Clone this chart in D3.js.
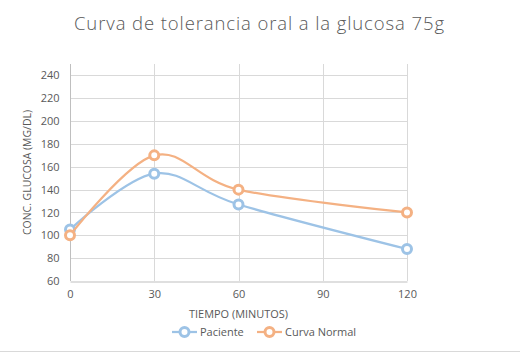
<!DOCTYPE html>
<html><head><meta charset="utf-8">
<script src="https://cdn.jsdelivr.net/npm/d3@7"></script>
<style>body{margin:0;background:#fff}svg{display:block;font-family:"Open Sans",Lato,sans-serif}</style>
</head><body><svg id="c" width="520" height="352"></svg>
<script>
const title = "Curva de tolerancia oral a la glucosa 75g";
const xTitle = "TIEMPO (MINUTOS)";
const yTitle = "CONC. GLUCOSA (MG/DL)";
const times = [0, 30, 60, 120];
const xTicks = [0, 30, 60, 90, 120];
const yTicks = [60, 80, 100, 120, 140, 160, 180, 200, 220, 240];
const paciente = [105, 154, 127, 88];
const normal = [100, 170, 140, 120];
const seriesNames = ["Paciente", "Curva Normal"];
const colors = ["#9dc3e6", "#f4b183"];

const FONT = '"Open Sans",Lato,sans-serif';
const svg = d3.select("#c");
const x = d3.scaleLinear().domain([0, 120]).range([70, 407]);
const y = d3.scaleLinear().domain([60, 250]).range([281, 64]);

svg.append("line").attr("x1",0).attr("x2",520).attr("y1",351.5).attr("y2",351.5).attr("stroke","#d9d9d9");

svg.append("text").attr("x",259).attr("y",30).attr("text-anchor","middle")
  .attr("font-size",18.5).attr("font-weight",300).attr("fill","#595959")
  .attr("textLength",370).attr("lengthAdjust","spacing").text(title);

// grid
const g = svg.append("g");
g.selectAll(".hg").data(yTicks.filter(d=>d>60)).join("line")
  .attr("x1",x(0)).attr("x2",x(120)).attr("y1",d=>Math.round(y(d))+0.5).attr("y2",d=>Math.round(y(d))+0.5)
  .attr("stroke","#d9d9d9");
g.selectAll(".vg").data(xTicks.filter(d=>d>0)).join("line")
  .attr("x1",d=>Math.round(x(d))+0.5).attr("x2",d=>Math.round(x(d))+0.5).attr("y1",y(250)).attr("y2",y(60))
  .attr("stroke","#d9d9d9");

// axes
const ya = svg.append("g").attr("transform",`translate(${Math.round(x(0))+0.5},0)`)
  .call(d3.axisLeft(y).tickValues(yTicks).tickSize(0).tickPadding(11));
ya.select(".domain").attr("stroke","#bfbfbf").attr("d",`M0,${y(250)}V${y(60)}`);
const xa = svg.append("g").attr("transform",`translate(0,${Math.round(y(60))+0.5})`)
  .call(d3.axisBottom(x).tickValues(xTicks).tickSize(0).tickPadding(9));
xa.select(".domain").attr("stroke","#bfbfbf");
[ya,xa].forEach(a=>a.selectAll("text").attr("font-size",11).attr("fill","#595959")
  .attr("font-family",FONT));

svg.append("text").attr("x",238.5).attr("y",318).attr("text-anchor","middle").attr("font-size",11)
  .attr("fill","#595959").attr("textLength",99).attr("lengthAdjust","spacingAndGlyphs").text(xTitle);
svg.append("text").attr("transform","translate(31,172.5) rotate(-90)").attr("text-anchor","middle")
  .attr("font-size",11).attr("fill","#595959").attr("textLength",125).attr("lengthAdjust","spacingAndGlyphs").text(yTitle);

const line = d3.line().x(d=>x(d[0])).y(d=>y(d[1])).curve(d3.curveCardinal.tension(0));
[paciente, normal].forEach((vals,i)=>{
  const pts = times.map((t,j)=>[t, vals[j]]);
  svg.append("path").datum(pts).attr("d",line).attr("fill","none").attr("stroke",colors[i]).attr("stroke-width",2.25);
  svg.selectAll(null).data(pts).join("circle").attr("cx",d=>x(d[0])).attr("cy",d=>y(d[1]))
    .attr("r",4.5).attr("fill","#fff").attr("stroke",colors[i]).attr("stroke-width",3);
});

// legend
const leg = [{x:172, tx:200},{x:257, tx:285}];
seriesNames.forEach((n,i)=>{
  const lg = svg.append("g");
  lg.append("line").attr("x1",leg[i].x).attr("x2",leg[i].x+25).attr("y1",332).attr("y2",332).attr("stroke",colors[i]).attr("stroke-width",2.25);
  lg.append("circle").attr("cx",leg[i].x+12.5).attr("cy",332).attr("r",4.5).attr("fill","#fff").attr("stroke",colors[i]).attr("stroke-width",3);
  lg.append("text").attr("x",leg[i].tx).attr("y",336).attr("font-size",11).attr("fill","#595959").text(n);
});
</script></body></html>
